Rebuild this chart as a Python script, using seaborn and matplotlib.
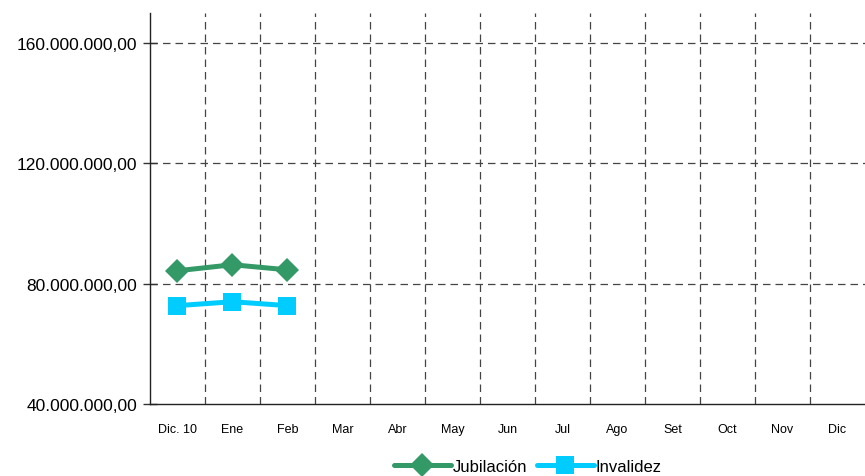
import matplotlib
matplotlib.use("Agg")
import matplotlib.pyplot as plt
import matplotlib.ticker as mticker
import numpy as np
import pandas as pd
import seaborn as sns

meses = ["Dic. 10", "Ene", "Feb", "Mar", "Abr", "May", "Jun", "Jul",
         "Ago", "Set", "Oct", "Nov", "Dic"]
jubilacion = [84300000, 86300000, 84600000]
invalidez = [72700000, 74000000, 72700000]
series = ["Jubilación", "Invalidez"]
colores = {"Jubilación": "#339966", "Invalidez": "#00CCFF"}
marcadores = {"Jubilación": "D", "Invalidez": "s"}

rows = []
for serie, vals in zip(series, [jubilacion, invalidez]):
    for i, v in enumerate(vals):
        rows.append({"mes": meses[i], "pos": i, "valor": v, "serie": serie})
df = pd.DataFrame(rows)

sns.set_style("white")
plt.rcParams["font.family"] = ["Liberation Sans", "DejaVu Sans"]
plt.rcParams["text.color"] = "black"
plt.rcParams["xtick.color"] = "black"
plt.rcParams["ytick.color"] = "black"

fig = plt.figure(figsize=(8.65, 4.77), dpi=100)
ax = fig.add_axes([0.1734, 0.151, 0.8266, 0.8196])

sns.lineplot(data=df, x="pos", y="valor", hue="serie", style="serie",
             palette=colores, markers=marcadores, dashes=False,
             hue_order=series, style_order=series,
             linewidth=3.6, markersize=12.5, markeredgewidth=0, ax=ax)

ax.set_xlim(-0.5, len(meses) - 0.5)
ax.set_ylim(40000000, 170000000)

ax.xaxis.set_major_locator(mticker.FixedLocator(range(len(meses))))
ax.xaxis.set_major_formatter(mticker.FixedFormatter(meses))
ax.xaxis.set_minor_locator(mticker.FixedLocator(np.arange(-0.5, len(meses), 1.0)))
ax.tick_params(axis="x", which="major", length=0, labelsize=9, pad=14)
ax.tick_params(axis="x", which="minor", length=6, width=1, color="#333333", direction="out")

ax.yaxis.set_major_locator(mticker.FixedLocator([40000000, 80000000, 120000000, 160000000]))
ax.yaxis.set_major_formatter(mticker.FuncFormatter(
    lambda v, p: f"{v:,.2f}".replace(",", "X").replace(".", ",").replace("X", ".")))
ax.tick_params(axis="y", which="major", length=10, width=1, color="#333333",
               direction="inout", labelsize=12.5, pad=4, left=True)

for xb in np.arange(0.5, len(meses) - 1, 1.0):
    ax.axvline(xb, color="#444444", linestyle=(0, (6, 4)), linewidth=0.9, zorder=0)
for yv in [80000000, 120000000, 160000000]:
    ax.axhline(yv, color="#444444", linestyle=(0, (6, 4)), linewidth=0.9, zorder=0)

for s in ["top", "right"]:
    ax.spines[s].set_visible(False)
for s in ["left", "bottom"]:
    ax.spines[s].set_color("#222222")
    ax.spines[s].set_linewidth(1)

ax.set_xlabel("")
ax.set_ylabel("")

handles, labels = ax.get_legend_handles_labels()
ax.get_legend().remove()
fig.legend(handles, labels, loc="center", bbox_to_anchor=(0.61, 0.02),
           ncol=2, frameon=False, fontsize=12, handlelength=3.4,
           handletextpad=0.1, columnspacing=0.6)

fig.savefig("out.png", dpi=100)
